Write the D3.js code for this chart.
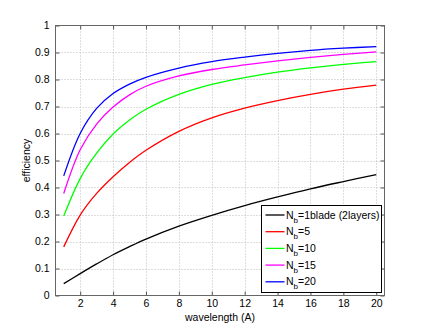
<!DOCTYPE html>
<html>
<head>
<meta charset="utf-8">
<script src="https://cdn.jsdelivr.net/npm/d3@7"></script>
<style>
    body { margin: 0; background: #fff; }
    svg { display: block; font-family: "Liberation Sans", Arial, sans-serif; }
</style>
</head>
<body>
<div id="chart"></div>
<script>
// Wavelength samples (A)
const wavelength = [1, 2, 3, 4, 5, 6, 8, 10, 12, 14, 16, 18, 20];

// Efficiency, one array per blade count
const effNb1 = [0.044, 0.081, 0.117, 0.151, 0.181, 0.209, 0.257, 0.297, 0.333, 0.365, 0.395, 0.422, 0.448];
const effNb5 = [0.180, 0.298, 0.378, 0.440, 0.493, 0.538, 0.608, 0.658, 0.694, 0.722, 0.745, 0.764, 0.779];
const effNb10 = [0.294, 0.433, 0.527, 0.598, 0.650, 0.690, 0.745, 0.782, 0.807, 0.827, 0.843, 0.856, 0.866];
const effNb15 = [0.378, 0.540, 0.635, 0.698, 0.743, 0.775, 0.813, 0.837, 0.854, 0.869, 0.882, 0.893, 0.902];
const effNb20 = [0.443, 0.600, 0.693, 0.748, 0.783, 0.808, 0.842, 0.866, 0.883, 0.897, 0.908, 0.916, 0.922];

const legendMain = ['=1blade (2layers)', '=5', '=10', '=15', '=20'];
const xTicks = [2, 4, 6, 8, 10, 12, 14, 16, 18, 20];
const yTicks = [0, 0.1, 0.2, 0.3, 0.4, 0.5, 0.6, 0.7, 0.8, 0.9, 1];

const series = [
    { name: legendMain[0], values: effNb1, color: '#000000' },
    { name: legendMain[1], values: effNb5, color: '#ff0000' },
    { name: legendMain[2], values: effNb10, color: '#00ff00' },
    { name: legendMain[3], values: effNb15, color: '#ff00ff' },
    { name: legendMain[4], values: effNb20, color: '#0000ff' }
];

const W = 425, H = 333;
const plot = { left: 55.5, top: 25.5, right: 384.5, bottom: 295.5 };

const svg = d3.select('#chart').append('svg')
    .attr('width', W).attr('height', H);

const x = d3.scaleLinear().domain([0.5, 20.5]).range([plot.left, plot.right]);
const y = d3.scaleLinear().domain([0, 1]).range([plot.bottom, plot.top]);

// Dotted grid
const grid = svg.append('g')
    .attr('stroke', '#bcbcbc')
    .attr('stroke-width', 1)
    .attr('stroke-dasharray', '1,2');
grid.selectAll('line.gx').data(xTicks).join('line')
    .attr('x1', d => Math.round(x(d)) + 0.5).attr('x2', d => Math.round(x(d)) + 0.5)
    .attr('y1', plot.top).attr('y2', plot.bottom);
grid.selectAll('line.gy').data(yTicks.filter(d => d > 0 && d < 1)).join('line')
    .attr('y1', d => Math.round(y(d)) + 0.5).attr('y2', d => Math.round(y(d)) + 0.5)
    .attr('x1', plot.left).attr('x2', plot.right);

// Axes with inward ticks (MATLAB style)
const tickLen = 4;
const axisBottom = svg.append('g')
    .attr('transform', `translate(0,${plot.bottom})`)
    .call(d3.axisBottom(x).tickValues(xTicks).tickSizeInner(-tickLen).tickSizeOuter(0).tickPadding(4));
const axisTop = svg.append('g')
    .attr('transform', `translate(0,${plot.top})`)
    .call(d3.axisTop(x).tickValues(xTicks).tickSizeInner(-tickLen).tickSizeOuter(0).tickFormat(''));
const axisLeft = svg.append('g')
    .attr('transform', `translate(${plot.left},0)`)
    .call(d3.axisLeft(y).tickValues(yTicks).tickSizeInner(-tickLen).tickSizeOuter(0).tickPadding(6)
        .tickFormat(d => d === 0 || d === 1 ? String(d) : d3.format('.1f')(d)));
const axisRight = svg.append('g')
    .attr('transform', `translate(${plot.right},0)`)
    .call(d3.axisRight(y).tickValues(yTicks).tickSizeInner(-tickLen).tickSizeOuter(0).tickFormat(''));

[axisBottom, axisTop, axisLeft, axisRight].forEach(a => {
    a.select('.domain').remove();
    a.selectAll('line').attr('stroke', '#555');
    a.selectAll('text').attr('font-size', 10.5).attr('fill', '#000')
        .attr('font-family', '"Liberation Sans", Arial, sans-serif');
});

// Frame
svg.append('rect')
    .attr('x', plot.left).attr('y', plot.top)
    .attr('width', plot.right - plot.left).attr('height', plot.bottom - plot.top)
    .attr('fill', 'none').attr('stroke', '#666').attr('stroke-width', 1);

// Curves
const line = d3.line()
    .x((d, i) => x(wavelength[i]))
    .y(d => y(d))
    .curve(d3.curveCatmullRom.alpha(0.5));

svg.append('g').selectAll('path').data(series).join('path')
    .attr('d', d => line(d.values))
    .attr('fill', 'none')
    .attr('stroke', d => d.color)
    .attr('stroke-width', 1.3);

// Axis labels
svg.append('text')
    .attr('x', (plot.left + plot.right) / 2).attr('y', 321)
    .attr('text-anchor', 'middle').attr('font-size', 10.5)
    .text('wavelength (A)');
svg.append('text')
    .attr('transform', `translate(30,${(plot.top + plot.bottom) / 2}) rotate(-90)`)
    .attr('text-anchor', 'middle').attr('font-size', 10.5)
    .text('efficiency');

// Legend
const lg = svg.append('g');
lg.append('rect')
    .attr('x', 261.5).attr('y', 205.5).attr('width', 120).attr('height', 87)
    .attr('fill', '#fff').attr('stroke', '#000').attr('stroke-width', 1);
const rows = lg.selectAll('g.row').data(series).join('g')
    .attr('transform', (d, i) => `translate(0,${215 + i * 16.7})`);
rows.append('line')
    .attr('x1', 265.5).attr('x2', 284.5).attr('y1', 0).attr('y2', 0)
    .attr('stroke', d => d.color).attr('stroke-width', 1.3);
const lt = rows.append('text')
    .attr('x', 286).attr('y', 3.5).attr('font-size', 10.5);
lt.append('tspan').text('N');
lt.append('tspan').attr('dy', 4).attr('font-size', 8).text('b');
lt.append('tspan').attr('dy', -4).text(d => d.name);
</script>
</body>
</html>
